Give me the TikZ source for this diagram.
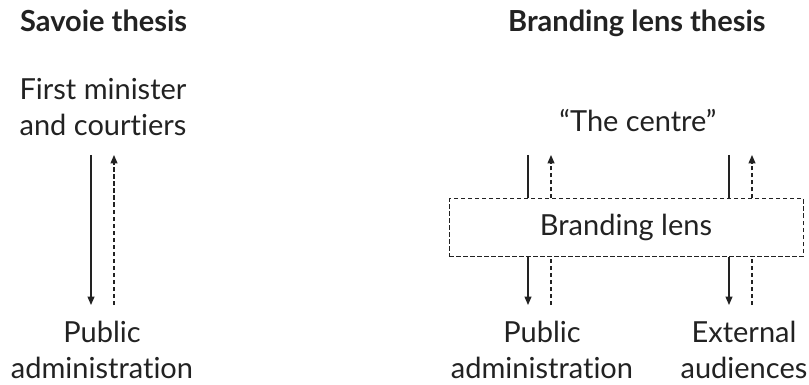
\documentclass[tikz,border=0pt]{standalone}
\usepackage{fontspec}
\setmainfont{Lato}[Ligatures=NoCommon]
\usepackage{xcolor}
\usetikzlibrary{arrows.meta,positioning}
\definecolor{ink}{HTML}{222222}

\begin{document}
\begin{tikzpicture}[x=1pt,y=-1pt,
  every node/.style={text=ink,font=\fontsize{29}{36}\selectfont,inner sep=0pt},
  title/.style={font=\fontsize{29}{36}\selectfont\bfseries,anchor=base west},
  label/.style={align=center},
  flow/.style={draw=ink,line width=1.3pt},
  back/.style={flow,dash pattern=on 4.5pt off 2.5pt},
  tip/.style={-{Triangle[length=8.5pt,width=7pt]}}]
\useasboundingbox (0,0) rectangle (809,385);
\node[title] (sav) at (20,32) {Savoie thesis};
\node[title] (bra) at (508,32) {Branding lens thesis};
\node[label] (fm) at (103,107) {First minister\\and courtiers};
\node[label] (pa) at (102,350) {Public\\administration};
\node[label] (tc) at (638,121) {“The centre”};
\node[draw=ink,line width=1pt,dash pattern=on 4.5pt off 2.5pt,minimum width=354pt,minimum height=57pt] (lens) at (626,227.5) {Branding lens};
\node[label] (pb) at (542,350) {Public\\administration};
\node[label] (ea) at (744,350) {External\\audiences};
\coordinate (a1) at (91,155);
\coordinate (a2) at (91,305);
\coordinate (b1) at (114,305);
\coordinate (b2) at (114,155);
\draw[flow,tip] (a1) -- (a2);
\draw[back,tip] (b1) -- (b2);
\foreach \x/\n in {528/c,729/d} {
  \coordinate (\n1) at (\x,155);
  \coordinate (\n2) at (\x,305);
  \draw[flow] (\n1) -- (\n1 |- lens.north);
  \draw[flow,tip] (\n1 |- lens.south) -- (\n2);
  \coordinate (\n3) at (\x+23,155);
  \coordinate (\n4) at (\x+23,305);
  \draw[back,tip] (\n3 |- lens.north) -- (\n3);
  \draw[back] (\n4) -- (\n4 |- lens.south);
}
\end{tikzpicture}
\end{document}
